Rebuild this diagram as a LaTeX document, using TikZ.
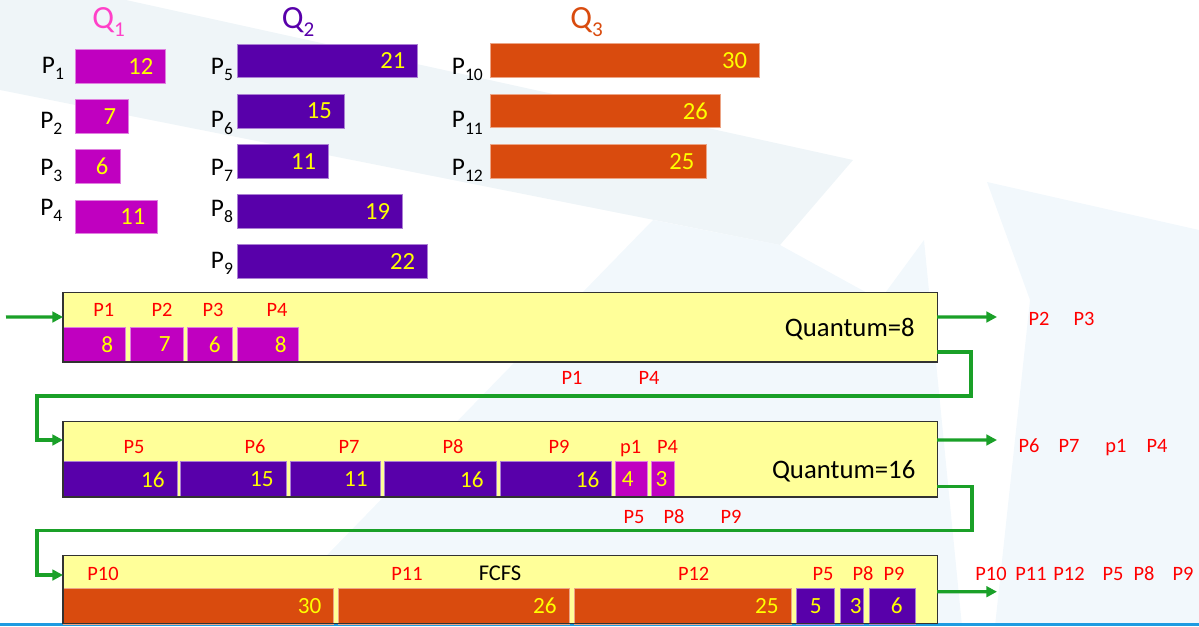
\documentclass[tikz,border=0pt]{standalone}
\usepackage{fontspec}
\setmainfont{Carlito}
\usetikzlibrary{arrows.meta}

\definecolor{qone}{RGB}{192,0,192}
\definecolor{qtwo}{RGB}{88,0,170}
\definecolor{qthree}{RGB}{217,75,14}
\definecolor{qonehead}{RGB}{255,64,200}
\definecolor{numyellow}{RGB}{255,255,0}
\definecolor{boxfill}{RGB}{255,255,153}
\definecolor{boxline}{RGB}{50,50,50}
\definecolor{flowgreen}{RGB}{26,160,40}
\definecolor{lblred}{RGB}{255,0,0}
\definecolor{bgtint}{RGB}{239,245,248}
\definecolor{bgtintb}{RGB}{242,248,252}
\definecolor{baseblue}{RGB}{30,155,225}

\tikzset{
  qhead/.style={anchor=base west, inner sep=0pt, font=\fontsize{23}{23}\selectfont},
  pname/.style={anchor=base west, inner sep=0pt, font=\fontsize{18}{18}\selectfont},
  topnum/.style={text=numyellow, inner sep=0pt, font=\fontsize{17.5}{17.5}\selectfont},
  segnum/.style={text=numyellow, inner sep=0pt, font=\fontsize{16.5}{16.5}\selectfont},
  tag/.style={text=lblred, anchor=base, inner sep=0pt, font=\fontsize{14.5}{14.5}\selectfont},
  policy/.style={anchor=base east, inner sep=0pt, font=\fontsize{19}{19}\selectfont},
  qbox/.style={fill=boxfill, anchor=north west, inner sep=0pt, outer sep=0pt, minimum width=21.85cm},
  qframe/.style={draw=boxline, line width=0.9pt},
  flow/.style={draw=flowgreen, line width=2.4pt, -{Triangle[length=7.5pt,width=7.5pt]}},
}

\newcommand{\qsub}[1]{\raisebox{-6pt}{\fontsize{15}{15}\selectfont #1}}
\newcommand{\psub}[1]{\raisebox{-4.5pt}{\fontsize{12.5}{12.5}\selectfont #1}}
% burst bar: name, colour, x1, x2, y1, y2, value
\newcommand{\topbar}[7]{%
  \draw[fill=#2, draw=#2!50!white, line width=0.4pt] (#3,#5) rectangle (#4,#6);
  \node[topnum, anchor=east] (#1) at ({#4-12},{(#5+#6)/2}) {#7};}
% slice inside a queue: name, colour, x1, x2, y1, y2, value, right pad
\newcommand{\segbar}[8]{%
  \draw[fill=#2, draw=#2!50!white, line width=0.4pt] (#3,#5) rectangle (#4,#6);
  \node[segnum, anchor=east] (#1) at ({#4-#8},{(#5+#6)/2}) {#7};}

\begin{document}
\begin{tikzpicture}[x=0.025cm, y=-0.025cm]
    \useasboundingbox (0,0) rectangle (1199,626);
    % backdrop
    \fill[bgtint] (0,0) -- (126,0) -- (853,160) -- (780,245) -- (0,90) -- cycle;
    \fill[bgtintb] (653,220) -- (780,245) -- (880,300) -- (924,240) -- (962,626) -- (258,626) -- cycle;
    \fill[bgtintb] (987,182) -- (1199,230) -- (1199,626) -- (995,626) -- (1030,300) -- cycle;
    \draw[baseblue, line width=2.5pt] (0,624.5) -- (1199,624.5);

    % the three ready queues
    \node[qhead, text=qonehead] (h1) at (92,28.5) {Q\qsub{1}};
    \node[qhead, text=qtwo] (h2) at (281.7,28.5) {Q\qsub{2}};
    \node[qhead, text=qthree] (h3) at (570,28.5) {Q\qsub{3}};

    \node[pname] (n1) at (41.7,73.3) {P\psub{1}};
    \node[pname] (n2) at (40,128) {P\psub{2}};
    \node[pname] (n3) at (40,175) {P\psub{3}};
    \node[pname] (n4) at (40,215) {P\psub{4}};
    \node[pname] (n5) at (210.7,74) {P\psub{5}};
    \node[pname] (n6) at (210.7,127.7) {P\psub{6}};
    \node[pname] (n7) at (210.7,175) {P\psub{7}};
    \node[pname] (n8) at (210.7,216) {P\psub{8}};
    \node[pname] (n9) at (210.7,268) {P\psub{9}};
    \node[pname] (n10) at (451.7,74) {P\psub{10}};
    \node[pname] (n11) at (451.7,127.7) {P\psub{11}};
    \node[pname] (n12) at (451.7,175) {P\psub{12}};

    \topbar{b1}{qone}{75}{165.7}{49.3}{83.3}{12}
    \topbar{b2}{qone}{75}{128.3}{99.3}{133.3}{7}
    \topbar{b3}{qone}{75}{120.7}{149.3}{183.3}{6}
    \topbar{b4}{qone}{75}{157.7}{200}{233.3}{11}
    \topbar{b5}{qtwo}{237.7}{417.7}{44}{77.7}{21}
    \topbar{b6}{qtwo}{237.7}{344}{94}{128.3}{15}
    \topbar{b7}{qtwo}{237.7}{328.3}{144}{178.3}{11}
    \topbar{b8}{qtwo}{237.7}{402.3}{194.3}{228.7}{19}
    \topbar{b9}{qtwo}{237.7}{427.3}{244.3}{278.7}{22}
    \topbar{b10}{qthree}{490}{759.3}{43.3}{77.7}{30}
    \topbar{b11}{qthree}{490}{720}{94}{127.7}{26}
    \topbar{b12}{qthree}{490}{706.7}{144}{178.3}{25}

    % level 1, RR q=8
    \node[qbox, minimum height=1.7325cm] (qa) at (63,292.7) {};
    \segbar{s11}{qone}{63}{125.5}{327}{362}{8}{12}
    \segbar{s12}{qone}{130}{183}{327}{362}{7}{12}
    \segbar{s13}{qone}{187}{232}{327}{362}{6}{11}
    \segbar{s14}{qone}{237}{298}{327}{362}{8}{11}
    \draw[qframe] (qa.south west) rectangle (qa.north east);
    \node[tag] (a1) at (103.7,316) {P1};
    \node[tag] (a2) at (162,316) {P2};
    \node[tag] (a3) at (213,316) {P3};
    \node[tag] (a4) at (277,316) {P4};
    \node[policy] (qanote) at (915,336) {Quantum=8};

    % level 2, RR q=16
    \node[qbox, minimum height=1.8825cm] (qb) at (63,421.7) {};
    \segbar{s21}{qtwo}{63}{176.8}{461.7}{497}{16}{12}
    \segbar{s22}{qtwo}{180}{286}{461.7}{497}{15}{12}
    \segbar{s23}{qtwo}{290}{380}{461.7}{497}{11}{12}
    \segbar{s24}{qtwo}{384}{496}{461.7}{497}{16}{12}
    \segbar{s25}{qtwo}{500}{611.6}{461.7}{497}{16}{12}
    \segbar{s26}{qone}{615.5}{647}{461.7}{497}{4}{13}
    \segbar{s27}{qone}{651}{674.7}{461.7}{497}{3}{7}
    \draw[qframe] (qb.south west) rectangle (qb.north east);
    \node[tag] (c1) at (134,453) {P5};
    \node[tag] (c2) at (255,453) {P6};
    \node[tag] (c3) at (349,453) {P7};
    \node[tag] (c4) at (453,453) {P8};
    \node[tag] (c5) at (559,453) {P9};
    \node[tag] (c6) at (630.7,453) {p1};
    \node[tag] (c7) at (667.6,453) {P4};
    \node[policy] (qbnote) at (915.6,478.3) {Quantum=16};

    % level 3, FCFS
    \node[qbox, minimum height=1.70cm] (qc) at (63,555.7) {};
    \segbar{s31}{qthree}{63}{333.7}{588}{624}{30}{12}
    \segbar{s32}{qthree}{338.7}{569}{588}{624}{26}{12}
    \segbar{s33}{qthree}{574}{791}{588}{624}{25}{12}
    \segbar{s34}{qtwo}{796}{834}{588}{624}{5}{12}
    \segbar{s35}{qtwo}{840}{863.5}{588}{624}{3}{1.5}
    \segbar{s36}{qtwo}{869}{914.8}{588}{624}{6}{12}
    \draw[qframe] (qc.south west) rectangle (qc.north east);
    \node[tag] (e1) at (103,580) {P10};
    \node[tag] (e2) at (407,580) {P11};
    \node[tag] (e3) at (693.7,580) {P12};
    \node[tag] (e4) at (823,580) {P5};
    \node[tag] (e5) at (863,580) {P8};
    \node[tag] (e6) at (894,580) {P9};
    \node[anchor=base, inner sep=0pt, font=\fontsize{16}{16}\selectfont] (qcnote) at (500,580) {FCFS};

    % arrivals, completions and demotions
    \coordinate (src) at (6,317);
    \coordinate (o1) at (997,317);
    \coordinate (o2) at (997,440);
    \coordinate (o3) at (997,591.7);
    \coordinate (r1) at (971,396);  \coordinate (l1) at (37,396);
    \coordinate (r2) at (972,530.7); \coordinate (l2) at (37,530.7);
    \draw[flow] (src) -- ([yshift=0.259cm]qa.west);
    \draw[flow] ([yshift=0.259cm]qa.east) -- (o1);
    \draw[flow] ([yshift=0.484cm]qb.east) -- (o2);
    \draw[flow] ([yshift=-0.05cm]qc.east) -- (o3);
    \draw[flow] ([yshift=0.25cm]qa.south east) -| (r1) -- (l1) |- ([yshift=0.484cm]qb.west);
    \draw[flow] ([yshift=0.258cm]qb.south east) -| (r2) -- (l2) |- ([yshift=0.367cm]qc.west);

    \node[tag] (d1) at (572,384) {P1};
    \node[tag] (d2) at (649,384) {P4};
    \node[tag] (d3) at (634,523) {P5};
    \node[tag] (d4) at (674,523) {P8};
    \node[tag] (d5) at (731,523) {P9};

    \node[tag] (f1) at (1039,325) {P2};
    \node[tag] (f2) at (1084,325) {P3};
    \node[tag] (g1) at (1029,452) {P6};
    \node[tag] (g2) at (1069,452) {P7};
    \node[tag] (g3) at (1116,452) {p1};
    \node[tag] (g4) at (1157,452) {P4};
    \node[tag] (k1) at (991,580) {P10};
    \node[tag] (k2) at (1031,580) {P11};
    \node[tag] (k3) at (1069,580) {P12};
    \node[tag] (k4) at (1113,580) {P5};
    \node[tag] (k5) at (1144,580) {P8};
    \node[tag] (k6) at (1183,580) {P9};
\end{tikzpicture}
\end{document}
